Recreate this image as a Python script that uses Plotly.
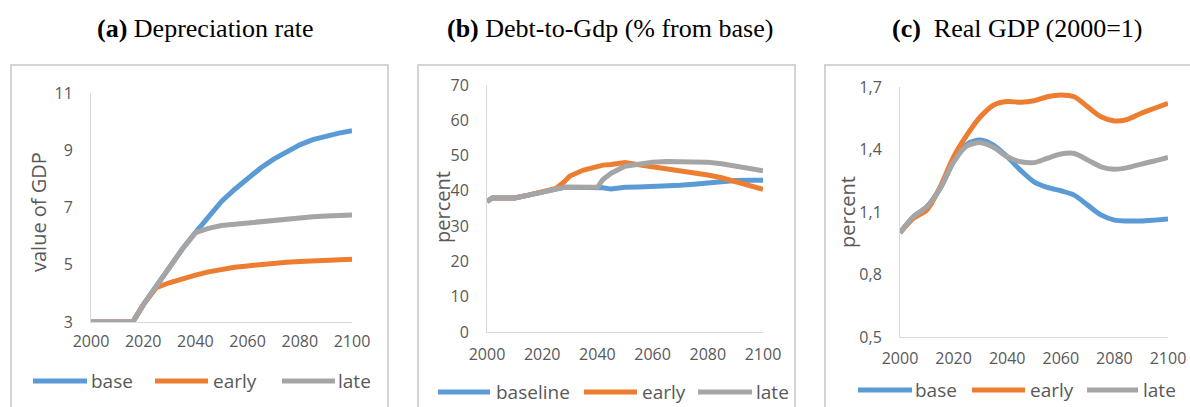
import plotly.graph_objects as go

# ---------------- data ----------------
# (a) Depreciation rate, value of GDP
years_a = [2000, 2005, 2010, 2016, 2020, 2025, 2030, 2035, 2040, 2045, 2050,
           2055, 2060, 2065, 2070, 2075, 2080, 2085, 2090, 2095, 2100]
dep_base = [3.0, 3.0, 3.0, 3.0, 3.6, 4.25, 4.95, 5.55, 6.12, 6.68, 7.21,
            7.63, 8.02, 8.38, 8.69, 8.96, 9.19, 9.37, 9.50, 9.60, 9.68]
dep_early = [3.0, 3.0, 3.0, 3.0, 3.6, 4.2, 4.37, 4.52, 4.64, 4.75, 4.85,
             4.91, 4.96, 5.01, 5.05, 5.09, 5.11, 5.14, 5.17, 5.18, 5.19]
dep_late = [3.0, 3.0, 3.0, 3.0, 3.6, 4.25, 4.95, 5.55, 6.12, 6.27, 6.37,
            6.42, 6.47, 6.52, 6.56, 6.61, 6.65, 6.68, 6.70, 6.72, 6.74]

# (b) Debt-to-GDP, percent
years_b = [2000, 2002, 2005, 2010, 2015, 2020, 2025, 2028, 2030, 2035, 2040,
           2042, 2045, 2050, 2055, 2060, 2065, 2070, 2075, 2080, 2085, 2090,
           2095, 2100]
debt_baseline = [37.0, 38.0, 38.0, 38.0, 38.8, 39.7, 40.7, 41.0, 41.0, 41.0, 41.0,
                 40.9, 40.5, 41.0, 41.1, 41.2, 41.3, 41.6, 41.9, 42.3, 42.6, 42.9,
                 43.0, 43.0]
debt_early = [37.0, 38.0, 38.0, 38.0, 38.8, 39.7, 40.7, 42.6, 44.2, 45.9, 47.0,
              47.3, 47.5, 48.0, 47.4, 46.8, 46.4, 45.9, 45.3, 44.5, 43.7, 42.6,
              41.6, 40.4]
debt_late = [37.0, 38.0, 38.0, 38.0, 38.8, 39.7, 40.7, 41.0, 41.0, 41.0, 41.0,
             43.2, 45.0, 47.0, 47.7, 48.1, 48.3, 48.3, 48.3, 48.1, 47.7, 47.0,
             46.4, 45.7]

# (c) Real GDP (2000=1)
years_c = [2000, 2005, 2010, 2015, 2020, 2025, 2030, 2035, 2040, 2045, 2050,
           2055, 2060, 2065, 2070, 2075, 2080, 2085, 2090, 2095, 2100]
gdp_base = [1.0, 1.077, 1.125, 1.214, 1.341, 1.425, 1.446, 1.42, 1.365, 1.30, 1.245,
            1.218, 1.202, 1.181, 1.133, 1.086, 1.061, 1.057, 1.057, 1.061, 1.066]
gdp_early = [1.0, 1.07, 1.11, 1.221, 1.365, 1.47, 1.557, 1.614, 1.63, 1.627, 1.634,
             1.653, 1.662, 1.653, 1.605, 1.557, 1.537, 1.545, 1.574, 1.598, 1.622]
gdp_late = [1.0, 1.077, 1.125, 1.214, 1.341, 1.417, 1.433, 1.41, 1.365, 1.341, 1.337,
            1.358, 1.378, 1.381, 1.35, 1.317, 1.305, 1.313, 1.33, 1.345, 1.362]

x_ticks = [2000, 2020, 2040, 2060, 2080, 2100]
y_ticks_a = [3, 5, 7, 9, 11]
y_ticks_b = [0, 10, 20, 30, 40, 50, 60, 70]
y_ticks_c = [0.5, 0.8, 1.1, 1.4, 1.7]
y_ticktext_c = ["0,5", "0,8", "1,1", "1,4", "1,7"]

panel_titles = ["<b>(a)</b> Depreciation rate",
                "<b>(b)</b> Debt-to-Gdp (% from base)",
                "<b>(c)</b>  Real GDP (2000=1)"]
y_titles = ["value of GDP", "percent", "percent"]

# ---------------- layout helpers ----------------
W, H = 1190, 407
BLUE, ORANGE, GRAY = "#5B9BD5", "#ED7D31", "#A5A5A5"
TXT = "#595959"
SANS = "Open Sans"
SERIF = "Liberation Serif"


def fx(p):
    return p / W


def fy(p):
    return 1 - p / H


fig = go.Figure()

panels = [
    dict(x=years_a, series=[("base", dep_base, BLUE), ("early", dep_early, ORANGE),
                            ("late", dep_late, GRAY)],
         shape="linear"),
    dict(x=years_b, series=[("baseline", debt_baseline, BLUE), ("early", debt_early, ORANGE),
                            ("late", debt_late, GRAY)],
         shape="linear"),
    dict(x=years_c, series=[("base", gdp_base, BLUE), ("early", gdp_early, ORANGE),
                            ("late", gdp_late, GRAY)],
         shape="spline"),
]

for i, p in enumerate(panels):
    sfx = "" if i == 0 else str(i + 1)
    for name, vals, col in p["series"]:
        fig.add_trace(go.Scatter(
            x=p["x"], y=vals, name=name, mode="lines",
            line=dict(color=col, width=5, shape=p["shape"], smoothing=0.8),
            xaxis="x" + sfx, yaxis="y" + sfx, showlegend=False,
        ))

# plot-area geometry in pixels: (left, right, top, bottom)
areas = [(91, 352, 93, 322), (487, 763, 85, 332), (900, 1168, 87, 337)]
y_ranges = [[3, 11], [0, 70], [0.5, 1.7]]
y_tickvals = [y_ticks_a, y_ticks_b, y_ticks_c]
y_ticktexts = [[str(v) for v in y_ticks_a], [str(v) for v in y_ticks_b], y_ticktext_c]
x_standoff = [5, 8, 7]

axis_common = dict(showline=True, linecolor="#d9d9d9", linewidth=1, showgrid=False,
                   zeroline=False, ticks="", automargin=False,
                   tickfont=dict(family=SANS, size=16, color=TXT), fixedrange=True)

for i, (l, r, t, b) in enumerate(areas):
    sfx = "" if i == 0 else str(i + 1)
    fig.layout["xaxis" + sfx] = dict(
        axis_common, domain=[fx(l), fx(r)], range=[2000, 2100], tickvals=x_ticks,
        anchor="y" + sfx, ticklabelstandoff=x_standoff[i])
    fig.layout["yaxis" + sfx] = dict(
        axis_common, domain=[fy(b), fy(t)], range=y_ranges[i], tickvals=y_tickvals[i],
        ticktext=y_ticktexts[i], anchor="x" + sfx, ticklabelstandoff=14)

# chart frames
frames = [(11, 388), (418, 795), (825, 1200)]
shapes = []
for x0, x1 in frames:
    shapes.append(dict(type="rect", xref="paper", yref="paper", x0=fx(x0), x1=fx(x1),
                       y0=fy(430), y1=fy(65), line=dict(color="#d4d4d4", width=2),
                       fillcolor="rgba(0,0,0,0)", layer="below"))

annotations = []
# panel titles
title_centers = [205, 610, 1017]
for cx, txt in zip(title_centers, panel_titles):
    annotations.append(dict(text=txt, x=fx(cx), y=fy(28), xref="paper", yref="paper",
                            showarrow=False, xanchor="center", yanchor="middle",
                            font=dict(family=SERIF, size=26, color="black")))

# y axis titles
ytitle_pos = [(38, 212), (442, 207), (847, 212)]
for (cx, cy), txt in zip(ytitle_pos, y_titles):
    annotations.append(dict(text=txt, x=fx(cx), y=fy(cy), xref="paper", yref="paper",
                            showarrow=False, textangle=-90, xanchor="center",
                            yanchor="middle", font=dict(family=SANS, size=20, color=TXT)))

# legends: (line start, line end, text start) per entry, plus row height
legend_rows = [
    (381, [(33, 87, 89), (155, 208, 211), (282, 335, 336)]),
    (392, [(438, 490, 494), (584, 637, 640), (698, 752, 754)]),
    (390, [(858, 912, 913), (972, 1025, 1028), (1087, 1138, 1141)]),
]
for p, (ly, entries) in zip(panels, legend_rows):
    for (name, _, col), (x0, x1, xt) in zip(p["series"], entries):
        shapes.append(dict(type="line", xref="paper", yref="paper", x0=fx(x0), x1=fx(x1),
                           y0=fy(ly), y1=fy(ly), line=dict(color=col, width=5)))
        annotations.append(dict(text=name, x=fx(xt), y=fy(ly), xref="paper", yref="paper",
                                showarrow=False, xanchor="left", yanchor="middle",
                                font=dict(family=SANS, size=19, color=TXT)))

fig.update_layout(
    width=W, height=H, margin=dict(l=0, r=0, t=0, b=0, pad=0, autoexpand=False),
    paper_bgcolor="white", plot_bgcolor="white", showlegend=False,
    shapes=shapes, annotations=annotations,
)

fig.write_html("out.html")
